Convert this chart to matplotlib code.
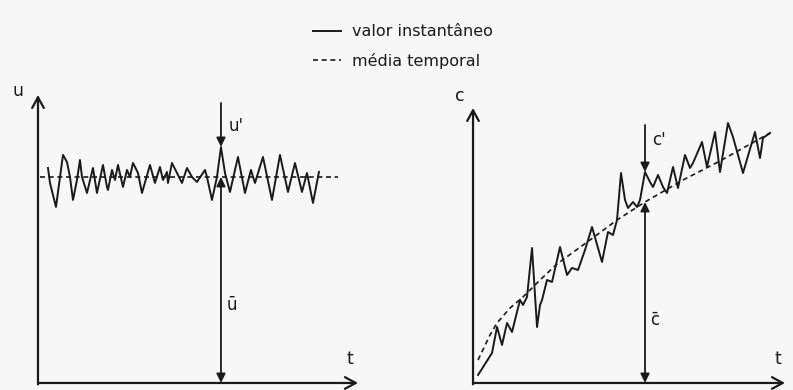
import numpy as np
import matplotlib.pyplot as plt
from matplotlib.lines import Line2D

plt.rcParams['font.family'] = ['DejaVu Sans']

# instantaneous velocity u(t)
t_u = [1.0, 1.2, 1.8, 2.5, 2.9, 3.2, 3.5, 3.9, 4.2, 4.4, 4.9, 5.4, 5.5, 5.9,
       6.5, 6.9, 7.0, 7.4, 7.7, 8.0, 8.5, 8.9, 9.2, 9.5, 10.0, 10.4, 11.2,
       11.7, 12.2, 12.5, 12.9, 13.0, 13.4, 13.9, 14.4, 14.9, 15.4, 15.9, 16.7,
       16.9, 17.4, 17.9, 18.3, 18.7, 19.2, 20.0, 20.7, 21.3, 21.7, 22.5, 23.4,
       24.2, 25.0, 25.7, 26.4, 26.9, 27.5, 28.1]
u = [21.5, 20.0, 17.6, 22.8, 22.1, 20.6, 18.3, 20.3, 22.3, 20.6, 19.0, 21.1,
     21.5, 19.0, 21.8, 19.6, 19.3, 21.3, 20.3, 21.8, 19.6, 21.3, 20.6, 22.0,
     21.0, 19.0, 21.8, 20.0, 21.6, 20.3, 21.1, 20.0, 22.0, 21.0, 20.0, 21.5,
     20.6, 20.1, 21.3, 20.6, 18.3, 20.6, 23.6, 21.0, 19.1, 22.6, 19.0, 21.3,
     20.0, 22.6, 18.3, 22.8, 19.1, 22.0, 19.1, 21.0, 18.0, 21.1]
u_mean = 20.6
t_u_mean = [0.2, 30.0]
t_u_mark = 18.3
u_peak = 23.6

# instantaneous concentration c(t) and its running mean
t_c = [0.5, 1.9, 2.4, 2.9, 3.4, 3.9, 4.7, 5.0, 5.4, 5.9, 6.4, 6.7, 6.9, 7.4,
       7.9, 8.7, 9.4, 9.9, 10.5, 11.2, 11.9, 12.9, 13.5, 14.0, 14.4, 14.8,
       15.2, 15.5, 16.0, 16.4, 16.7, 17.2, 17.7, 18.0, 18.5, 19.0, 19.4, 20.0,
       20.5, 21.2, 21.7, 22.0, 22.9, 23.4, 24.2, 24.7, 25.5, 26.0, 27.0, 28.2,
       28.7, 29.0, 29.7]
c = [0.8, 3.0, 5.6, 3.8, 6.0, 5.1, 8.3, 7.8, 8.6, 13.5, 5.6, 7.8, 8.3, 10.3,
     10.1, 13.6, 10.8, 11.5, 11.3, 13.3, 15.6, 12.1, 15.1, 14.8, 16.3, 21.0,
     18.3, 17.5, 18.1, 17.6, 18.3, 21.1, 20.1, 19.6, 20.8, 19.6, 19.0, 21.6,
     19.5, 22.8, 21.5, 22.0, 24.1, 21.6, 25.1, 21.1, 26.0, 24.6, 21.0, 25.1,
     22.5, 24.5, 25.0]
t_cm = [0.5, 1.7, 2.4, 3.7, 5.0, 6.7, 8.4, 11.7, 14.4, 17.2, 21.0, 24.7, 29.7]
c_mean = [2.3, 4.8, 6.0, 7.5, 8.6, 10.3, 11.9, 14.3, 16.3, 18.1, 20.3, 22.2,
          25.0]
t_c_mark = 17.2
c_peak = 21.1
c_bar = 18.1

ink = '#1a1a1a'
bg = '#f7f7f7'
dash = (3.0, 2.2)
lw_line = 1.4

fig = plt.figure(figsize=(7.93, 3.90), dpi=100, facecolor=bg)
axL = fig.add_axes([0.0479, 0.0180, 0.4035, 0.7385])
axR = fig.add_axes([0.5965, 0.0180, 0.3934, 0.7051])


def draw_axes(ax, ylab, ylab_pos, t_pos):
    ax.set_facecolor('none')
    for s in ax.spines.values():
        s.set_visible(False)
    ax.set_xticks([]); ax.set_yticks([])
    head = dict(arrowstyle='->,head_length=0.55,head_width=0.3', color=ink,
                lw=1.6, mutation_scale=14, shrinkA=0, shrinkB=0)
    ax.annotate('', xy=(0, 1), xytext=(0, -0.005), xycoords='axes fraction',
                arrowprops=head, annotation_clip=False)
    ax.annotate('', xy=(1, 0), xytext=(0, 0), xycoords='axes fraction',
                arrowprops=head, annotation_clip=False)
    ax.text(*ylab_pos, ylab, transform=ax.transAxes, fontsize=12.5,
            ha='center', va='bottom', color=ink)
    ax.text(*t_pos, 't', transform=ax.transAxes, fontsize=12.5,
            ha='center', va='bottom', color=ink)


def mark(ax, t, top, peak, mean, fluct, bar, y_fluct, y_bar):
    small = dict(color=ink, lw=1.3, mutation_scale=12, shrinkA=0, shrinkB=0)
    ax.annotate('', xy=(t, peak), xytext=(t, top),
                arrowprops=dict(arrowstyle='-|>,head_length=0.45,head_width=0.22',
                                **small))
    ax.annotate('', xy=(t, mean), xytext=(t, 0),
                arrowprops=dict(arrowstyle='<|-|>,head_length=0.45,head_width=0.22',
                                **small))
    ax.text(t + 0.75, y_fluct, fluct, fontsize=12, color=ink, va='center')
    ax.text(t + 0.55, y_bar, bar, fontsize=12, color=ink, va='center')


# left panel: velocity
draw_axes(axL, 'u', (-0.0625, 0.982), (0.975, 0.052))
axL.set_xlim(0, 32); axL.set_ylim(0, 28.8)
axL.plot(t_u, u, color=ink, lw=lw_line)
axL.plot(t_u_mean, [u_mean, u_mean], color=ink, lw=1.2, dashes=dash)
mark(axL, t_u_mark, 28.0, u_peak, u_mean, "u'", '\u016b', 25.7, 7.8)

# right panel: concentration
draw_axes(axR, 'c', (-0.042, 1.012), (0.978, 0.055))
axR.set_xlim(0, 31.2); axR.set_ylim(0, 27.5)
axR.plot(t_c, c, color=ink, lw=lw_line)
axR.plot(t_cm, c_mean, color=ink, lw=1.2, dashes=dash)
mark(axR, t_c_mark, 25.8, c_peak, c_bar, "c'", 'c\u0304', 24.3, 6.3)

handles = [Line2D([], [], color=ink, lw=1.4),
           Line2D([], [], color=ink, lw=1.2, dashes=dash)]
fig.legend(handles, ['valor instantâneo', 'média temporal'],
           loc='upper left', bbox_to_anchor=(0.376, 0.975), frameon=False,
           fontsize=11.5, handlelength=1.8, handletextpad=0.7,
           labelspacing=0.85, labelcolor=ink)

fig.savefig('out.png', dpi=100, facecolor=bg)
